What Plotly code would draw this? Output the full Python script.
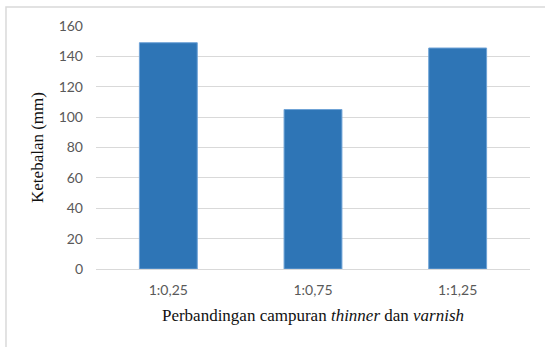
import plotly.graph_objects as go

categories = ["1:0,25", "1:0,75", "1:1,25"]
values = [149, 105, 145.5]
y_ticks = [0, 20, 40, 60, 80, 100, 120, 140, 160]

fig = go.Figure()
fig.add_trace(go.Bar(
    x=categories, y=values,
    marker=dict(color="#2E75B6", line=dict(color="#6FA3D6", width=1)),
    width=0.4,
))

serif = "Times New Roman, Liberation Serif, serif"

fig.update_layout(
    width=545, height=347,
    margin=dict(l=96, r=15, t=26, b=78),
    paper_bgcolor="white", plot_bgcolor="white",
    showlegend=False,
    font=dict(family="Lato", size=13, color="#595959"),
    xaxis=dict(
        showgrid=False, showline=True, linecolor="#D9D9D9", linewidth=1,
        ticks="", tickfont=dict(family="Lato", size=14, color="#595959"),
        ticklabelstandoff=8,
        title=dict(text="Perbandingan campuran <i>thinner</i> dan <i>varnish</i>",
                   font=dict(family=serif, size=17, color="#111111"),
                   standoff=12),
    ),
    yaxis=dict(
        range=[0, 160], tickvals=y_ticks, showgrid=True, gridcolor="#D9D9D9",
        gridwidth=1, zeroline=False, showline=False, ticks="",
        tickfont=dict(family="Lato", size=14, color="#595959"),
        ticklabelstandoff=12,
        title=dict(text="Ketebalan (mm)",
                   font=dict(family=serif, size=17, color="#111111"),
                   standoff=10),
    ),
    shapes=[dict(type="rect", xref="paper", yref="paper",
                 x0=-0.2074, x1=2, y0=-1, y1=1.078,
                 line=dict(color="#D9D9D9", width=1.5), layer="below")],
)

fig.write_html("out.html")
